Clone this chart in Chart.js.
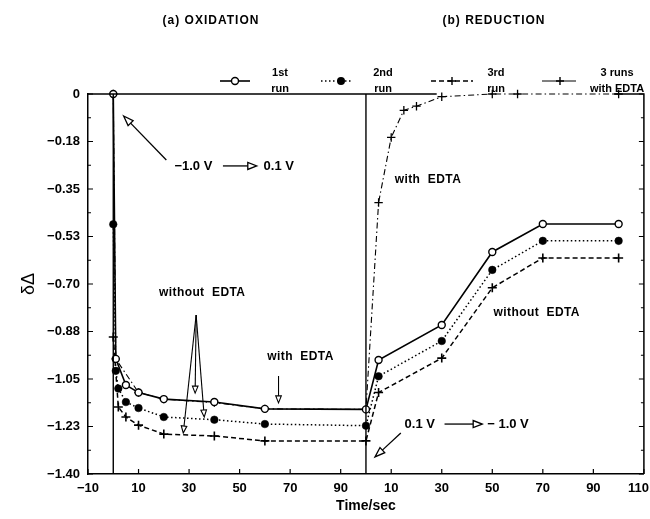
<!DOCTYPE html>
<html><head><meta charset="utf-8">
<script src="https://cdn.jsdelivr.net/npm/chart.js@4"></script>
<style>html,body{margin:0;padding:0;background:#fff}canvas{display:block}</style>
</head><body>
<canvas id="c" width="650" height="519"></canvas>
<script>
const panelTitles = ['(a) OXIDATION', '(b) REDUCTION'];
const seriesNames = [['1st','run'],['2nd','run'],['3rd','run'],['3 runs','with EDTA']];
// Continuous time axis: oxidation 0..100 s, reduction time = value - 100
const run1Time  = [0, 1, 5, 10, 20, 40, 60, 100, 105, 130, 150, 170, 200];
const run1Value = [0, -0.976, -1.072, -1.10, -1.124, -1.135, -1.16, -1.162, -0.98, -0.851, -0.582, -0.479, -0.479];
const run2Time  = [0, 1, 2, 5, 10, 20, 40, 60, 100, 105, 130, 150, 170, 200];
const run2Value = [-0.48, -1.02, -1.085, -1.135, -1.157, -1.19, -1.20, -1.216, -1.222, -1.04, -0.91, -0.648, -0.541, -0.541];
const run3Time  = [0, 2, 5, 10, 20, 40, 60, 100, 105, 130, 150, 170, 200];
const run3Value = [-0.895, -1.153, -1.19, -1.22, -1.253, -1.26, -1.278, -1.278, -1.10, -0.973, -0.714, -0.604, -0.604];
const edtaTime  = [0, 1, 10, 20, 40, 60, 100, 105, 110, 115, 120, 130, 150, 160, 200];
const edtaValue = [0, -0.976, -1.10, -1.124, -1.137, -1.16, -1.162, -0.40, -0.16, -0.06, -0.045, -0.01, 0, 0, 0];
const xTickValues = [-10, 10, 30, 50, 70, 90, 110, 130, 150, 170, 190, 210];
const xTickLabels = ['\u221210','10','30','50','70','90','10','30','50','70','90','110'];
const yTickValues = [0, -0.175, -0.35, -0.525, -0.7, -0.875, -1.05, -1.225, -1.4];
const yTickLabels = ['0','\u22120.18','\u22120.35','\u22120.53','\u22120.70','\u22120.88','\u22121.05','\u22121.23','\u22121.40'];
const stepTimes = [0, 100];

function pts(xs, ys){ return xs.map((t,i)=>({x:t, y:ys[i]})); }

const FONT = "'Liberation Sans', Arial, sans-serif";
Chart.defaults.font.family = FONT;
Chart.defaults.color = '#000';

function arrow(ctx, x1, y1, x2, y2, hl, hw){
  hl = hl || 9; hw = hw || 3.5;
  const ang = Math.atan2(y2-y1, x2-x1);
  const bx = x2 - hl*Math.cos(ang), by = y2 - hl*Math.sin(ang);
  ctx.beginPath(); ctx.moveTo(x1,y1); ctx.lineTo(bx,by); ctx.stroke();
  const nx = -Math.sin(ang)*hw, ny = Math.cos(ang)*hw;
  ctx.beginPath(); ctx.moveTo(x2,y2); ctx.lineTo(bx+nx,by+ny); ctx.lineTo(bx-nx,by-ny); ctx.closePath();
  ctx.fillStyle = '#fff'; ctx.fill(); ctx.stroke();
}
function cross(ctx, cx, cy, r){
  ctx.beginPath(); ctx.moveTo(cx-r,cy); ctx.lineTo(cx+r,cy); ctx.moveTo(cx,cy-r); ctx.lineTo(cx,cy+r); ctx.stroke();
}

const deco = {
  id: 'deco',
  afterDatasetsDraw(chart){
    const {ctx, chartArea:a, scales:{x, y}} = chart;
    const X = v => x.getPixelForValue(v), Y = v => y.getPixelForValue(v);
    ctx.save();
    ctx.strokeStyle = '#000'; ctx.lineWidth = 1.5; ctx.setLineDash([]);
    // frame (top + right)
    ctx.beginPath();
    ctx.moveTo(a.left, a.top); ctx.lineTo(X(128), a.top);
    ctx.moveTo(X(198), a.top); ctx.lineTo(a.right, a.top); ctx.lineTo(a.right, a.bottom);
    ctx.stroke();
    // potential-step lines
    ctx.lineWidth = 1.4;
    stepTimes.forEach(t => { ctx.beginPath(); ctx.moveTo(X(t), a.top); ctx.lineTo(X(t), a.bottom); ctx.stroke(); });
    // inward ticks
    ctx.lineWidth = 1.2;
    xTickValues.forEach(v => { const p = X(v); ctx.beginPath(); ctx.moveTo(p, a.bottom); ctx.lineTo(p, a.bottom-5); ctx.stroke(); });
    for (let i = 0; i <= 16; i++){
      const p = Y(-0.0875*i), len = i % 2 ? 3 : 5;
      ctx.beginPath(); ctx.moveTo(a.left, p); ctx.lineTo(a.left+len, p);
      ctx.moveTo(a.right, p); ctx.lineTo(a.right-len, p); ctx.stroke();
    }
    // x tick labels
    ctx.fillStyle = '#000';
    ctx.font = 'bold 13px ' + FONT; ctx.textAlign = 'center'; ctx.textBaseline = 'middle';
    xTickValues.forEach((v, i) => {
      const w = ctx.measureText(xTickLabels[i]).width;
      const p = Math.min(X(v), chart.width - w/2 - 1);
      ctx.fillText(xTickLabels[i], p, a.bottom + 14);
    });
    // annotations
    ctx.lineWidth = 1.3;
    ctx.font = 'bold 13px ' + FONT; ctx.textAlign = 'left';
    ctx.fillStyle = '#000';
    ctx.fillText('\u22121.0 V', X(24.2), Y(-0.265));
    arrow(ctx, X(43.4), Y(-0.265), X(56.8), Y(-0.265), 9, 3.5);
    ctx.fillStyle = '#000'; ctx.fillText('0.1 V', X(59.5), Y(-0.265));
    arrow(ctx, X(21), Y(-0.243), X(4.1), Y(-0.081), 10, 3.5);
    ctx.fillStyle = '#000'; ctx.font = 'bold 12px ' + FONT; ctx.textAlign = 'center';
    ctx.letterSpacing = '0.4px';
    ctx.fillText('without  EDTA', X(35.2), Y(-0.733));
    ctx.lineWidth = 1.1;
    arrow(ctx, X(32.8), Y(-0.814), X(27.7), Y(-1.249), 7, 2.8);
    arrow(ctx, X(32.8), Y(-0.814), X(32.4), Y(-1.102), 7, 2.8);
    arrow(ctx, X(32.8), Y(-0.814), X(36.0), Y(-1.19), 7, 2.8);
    ctx.fillStyle = '#000';
    ctx.fillText('with  EDTA', X(74.1), Y(-0.969));
    arrow(ctx, X(65.4), Y(-1.039), X(65.4), Y(-1.138), 7, 2.8);
    ctx.fillStyle = '#000'; ctx.textAlign = 'left';
    ctx.fillText('with  EDTA', X(111.4), Y(-0.317));
    ctx.textAlign = 'center';
    ctx.fillText('without  EDTA', X(167.6), Y(-0.807));
    ctx.letterSpacing = '0px';
    ctx.font = 'bold 13px ' + FONT; ctx.textAlign = 'left';
    ctx.fillText('0.1 V', X(115.3), Y(-1.216));
    ctx.lineWidth = 1.3;
    arrow(ctx, X(131.1), Y(-1.216), X(146), Y(-1.216), 9, 3.5);
    ctx.fillStyle = '#000'; ctx.fillText('\u2212 1.0 V', X(148), Y(-1.216));
    arrow(ctx, X(113.8), Y(-1.249), X(103.6), Y(-1.337), 10, 3.5);
    ctx.restore();
  },
  afterDraw(chart){
    const ctx = chart.ctx;
    ctx.save();
    ctx.fillStyle = '#000'; ctx.strokeStyle = '#000';
    ctx.textAlign = 'center'; ctx.textBaseline = 'middle';
    ctx.font = 'bold 12px ' + FONT;
    ctx.letterSpacing = '1px';
    ctx.fillText(panelTitles[0], 211, 21);
    ctx.fillText(panelTitles[1], 494, 21);
    ctx.letterSpacing = '0px';
    // legend
    const ly = 81;
    const items = [
      {x1:220, x2:250, m:235, tx:280, dash:[], lw:1.6, mark:'open'},
      {x1:321, x2:352, m:341, tx:383, dash:[1.5,2.5], lw:1.5, mark:'dot'},
      {x1:431, x2:473, m:452, tx:496, dash:[5,3], lw:1.5, mark:'cross'},
      {x1:542, x2:576, m:560, tx:617, dash:[], lw:1, mark:'cross'}
    ];
    items.forEach((it, i) => {
      ctx.lineWidth = it.lw; ctx.setLineDash(it.dash);
      ctx.beginPath(); ctx.moveTo(it.x1, ly); ctx.lineTo(it.x2, ly); ctx.stroke();
      ctx.setLineDash([]);
      if (it.mark === 'open'){ ctx.beginPath(); ctx.arc(it.m, ly, 3.5, 0, Math.PI*2); ctx.fillStyle='#fff'; ctx.fill(); ctx.lineWidth=1.4; ctx.stroke(); }
      else if (it.mark === 'dot'){ ctx.beginPath(); ctx.arc(it.m, ly, 4, 0, Math.PI*2); ctx.fillStyle='#000'; ctx.fill(); }
      else { ctx.lineWidth = 1.4; cross(ctx, it.m, ly, 4); }
      ctx.fillStyle = '#000'; ctx.font = 'bold 11px ' + FONT;
      ctx.fillText(seriesNames[i][0], it.tx, 73);
      ctx.fillText(seriesNames[i][1], it.tx, 89);
    });
    ctx.restore();
  }
};

new Chart(document.getElementById('c'), {
  type: 'scatter',
  data: { datasets: [
    {label:'1st run', data: pts(run1Time, run1Value), showLine:true, borderColor:'#000', borderWidth:1.6,
     pointStyle:'circle', pointRadius:3.5, pointBackgroundColor:'#fff', pointBorderColor:'#000', pointBorderWidth:1.4, clip:10},
    {label:'2nd run', data: pts(run2Time, run2Value), showLine:true, borderColor:'#000', borderWidth:1.5, borderDash:[1.5,2.5],
     pointStyle:'circle', pointRadius:3.8, pointBackgroundColor:'#000', pointBorderColor:'#000', pointBorderWidth:0.5, clip:10},
    {label:'3rd run', data: pts(run3Time, run3Value), showLine:true, borderColor:'#000', borderWidth:1.5, borderDash:[5,3],
     pointStyle:'cross', pointRadius:4.5, pointBorderColor:'#000', pointBorderWidth:1.6, clip:10},
    {label:'3 runs with EDTA', data: pts(edtaTime, edtaValue), showLine:true, borderColor:'#000', borderWidth:1.1, borderDash:[6,3,1.5,3],
     pointStyle:'cross', pointRadius:4.2, pointBorderColor:'#000', pointBorderWidth:1.3, clip:10}
  ]},
  options: {
    responsive:false, animation:false,
    layout:{padding:{top:94, right:2, left:0, bottom:0}},
    plugins:{legend:{display:false}, tooltip:{enabled:false}},
    scales:{
      x:{type:'linear', min:-10, max:210,
         grid:{display:false, drawTicks:false}, border:{display:true, color:'#000', width:1.5},
         ticks:{display:false},
         title:{display:true, text:'Time/sec', color:'#000', font:{size:14, weight:'bold'}, padding:{top:0, bottom:4}},
         afterFit(s){ s.height = 45; s.paddingLeft = 0; s.paddingRight = 0; }},
      y:{type:'linear', min:-1.4, max:0,
         grid:{display:false, drawTicks:false}, border:{display:true, color:'#000', width:1.5},
         afterBuildTicks(s){ s.ticks = yTickValues.map(v => ({value:v})); },
         ticks:{autoSkip:false, padding:8, color:'#000', font:{size:13, weight:'bold'}, callback:(v, i) => yTickLabels[i]},
         title:{display:true, text:'\u03b4\u0394', color:'#000', font:{size:18, weight:'normal'}, padding:{top:18, bottom:0}},
         afterFit(s){ s.width = 88; s.paddingTop = 0; s.paddingBottom = 0; }}
    }
  },
  plugins:[deco]
});
</script>
</body></html>
